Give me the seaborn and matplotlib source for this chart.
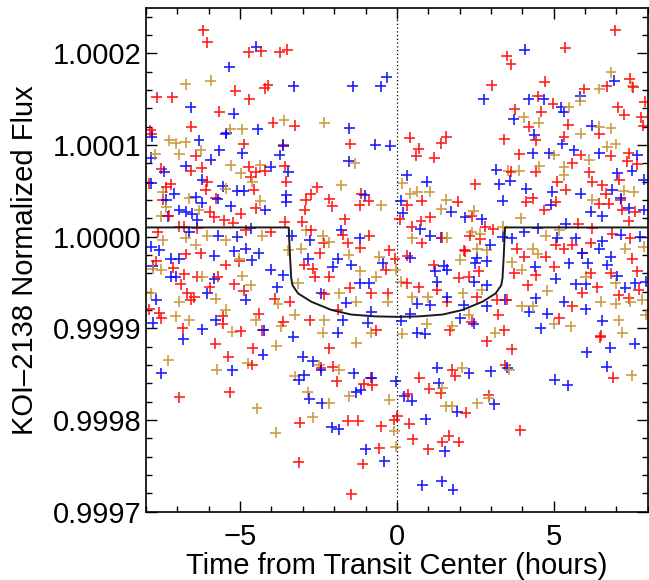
import numpy as np
import pandas as pd
import matplotlib
matplotlib.use("Agg")
import matplotlib.pyplot as plt
import seaborn as sns
from matplotlib.ticker import MultipleLocator

# points: (hours from transit center, flux offset in ppm)
red_pts = [
    (-6.18, 225), (-6.04, 212), (-4.73, 201), (-4.32, 202), (-3.74, 201), (-3.50, 204), (-7.66, 152), (-7.16, 152),
    (-5.15, 159), (-4.70, 150), (-4.22, 162), (-4.11, 165), (-5.67, 136), (-6.55, 120), (-3.95, 124), (-3.26, 121),
    (-7.87, 116),
    (6.96, 225), (5.37, 206), (3.51, 197), (3.64, 188), (3.02, 165), (4.71, 169), (7.43, 172), (5.98, 161),
    (6.69, 164), (7.54, 163), (7.91, 147), (4.50, 153), (4.98, 145), (3.76, 139), (4.61, 136), (7.04, 141),
    (7.25, 133), (7.80, 130), (5.47, 122), (7.86, 121), (4.20, 120),
    (-5.79, -117), (-4.59, -122), (-5.38, -131), (-4.61, -140), (-6.94, -175), (-5.33, -170), (-3.10, -203),
    (-1.57, -201), (-1.23, -201), (-3.13, -246), (-1.09, -248), (-1.46, -281), (-0.56, -231), (-0.49, -207),
    (-2.15, -122), (-1.92, -158), (-2.42, -143), (-2.05, -142), (-1.06, -161), (-0.78, -162), (-0.83, -154),
    (2.86, -114), (3.67, -123), (3.46, -140), (1.77, -145), (1.87, -152), (0.71, -154), (1.03, -166), (1.40, -171),
    (0.34, -172), (2.93, -173), (2.19, -192), (0.02, -196), (-0.09, -200), (0.39, -204), (3.94, -211), (1.66, -217),
    (1.45, -224), (1.98, -224), (1.00, -232), (0.50, -221), (6.90, -154), (6.48, -110),
    (-7.81, 112), (-4.88, 101), (-6.41, 88), (-6.22, 75), (-7.52, 74), (-6.57, 72), (-4.72, 76), (-4.50, 70),
    (-4.66, 65), (-4.21, 72), (-7.92, 58), (-7.36, 54), (-7.21, 57), (-6.09, 51), (-6.04, 60), (-5.78, 42),
    (-7.47, 40), (-4.56, 51), (-4.50, 31), (-5.97, 27), (-5.83, 21), (-4.98, 25), (-5.22, 15), (-5.51, 18),
    (-7.28, 23), (-6.94, 11), (-6.78, 11), (-7.63, 5), (-6.36, 9), (-4.82, 7), (-4.03, 5), (-6.25, -18),
    (-6.73, -19), (-7.68, -27), (-7.13, -34), (-5.46, -31), (-5.03, -27), (-6.78, -41), (-6.36, -44), (-6.89, -52),
    (-5.97, -55), (-5.19, -52), (-4.88, -59), (-6.68, -62), (-6.46, -66), (-6.57, -69), (-7.58, -83), (-7.52, -89),
    (-5.56, -87), (-5.56, -95), (-4.40, -84), (-6.83, -100), (-4.98, -103), (-4.29, -102), (-7.89, -79), (-5.72, -44),
    (-3.63, 100), (-1.48, 101), (-3.58, 77), (-3.52, 60), (-2.54, 54), (-2.75, 46), (-2.91, 40), (-2.94, 29),
    (-2.15, 41), (-2.06, 33), (-1.14, 47), (-1.19, 34), (-0.90, 39), (-1.67, 19), (-3.58, 16), (-3.01, 16),
    (-2.73, 7), (-2.33, -7), (-1.72, 2), (-1.56, -7), (-0.88, 1), (-1.16, -12), (-0.24, -15), (-2.46, -18),
    (-2.96, -31), (-2.68, -35), (-2.62, -44), (-2.15, -44), (-1.51, -56), (-0.82, -62), (-0.29, -62), (-3.42, -71),
    (-2.31, -63), (-1.88, -80), (-2.78, -91), (-3.63, -93), (-0.66, -102), (-3.89, -68), (-0.35, -36), (-0.06, -24),
    (0.41, 108), (0.70, 96), (0.62, 88), (1.20, 86), (1.42, 102), (1.57, 109), (3.42, 106), (3.91, 90),
    (2.50, 57), (3.64, 71), (0.80, 39), (1.94, 38), (0.33, 34), (0.09, 19), (0.77, 17), (0.47, 11),
    (1.07, 21), (2.39, 22), (3.08, 8), (2.82, 11), (2.32, 1), (2.66, -3), (1.44, -1), (0.80, -7),
    (3.82, -13), (2.18, -16), (1.18, -31), (0.33, -21), (2.61, -38), (1.97, -45), (2.29, -44), (1.28, -58),
    (0.70, -55), (0.31, -51), (3.74, -40), (3.19, -69), (3.51, -69), (2.55, -66), (1.60, -71), (3.24, -85),
    (2.39, -93), (1.68, -102), (3.42, -102), (2.15, -15),
    (4.43, 105), (5.33, 109), (6.45, 112), (5.60, 80), (5.86, 89), (6.82, 88), (7.40, 91), (7.66, 79),
    (7.35, 82), (6.13, 70), (5.12, 60), (6.23, 60), (6.55, 56), (6.66, 47), (7.10, 62), (7.14, 40),
    (5.39, 51), (4.43, 71), (4.12, 38), (4.33, 42), (5.07, 38), (4.70, 29), (6.45, 36), (6.76, 36),
    (7.19, 29), (7.61, 27), (5.79, 14), (6.23, 9), (7.40, 17), (7.45, -2), (6.87, 3), (5.07, -9),
    (5.60, -9), (5.33, -13), (6.18, -7), (4.75, -22), (4.06, -22), (5.92, -18), (7.51, -24), (4.43, -42),
    (5.02, -33), (6.18, -40), (6.82, -40), (7.66, -38), (6.39, -55), (4.17, -53), (5.92, -61), (7.08, -64),
    (7.40, -67), (7.72, -58), (5.60, -76), (5.18, -89), (6.50, -108),
]

blue_pts = [
    (-4.48, 207), (-5.35, 185), (-3.29, 164), (-1.41, 164), (-0.51, 164), (-0.32, 174), (-6.58, 141), (-5.20, 134),
    (-4.43, 117), (-1.52, 118), (-5.44, 113),
    (4.08, 204), (2.77, 150), (4.20, 150), (4.68, 150), (5.24, 141), (5.32, 136), (5.85, 153), (6.93, 170),
    (3.73, 128), (6.22, 121),
    (-4.27, -129), (-5.25, -146), (-7.52, -149), (-3.00, -131), (-2.68, -136), (-2.95, -151), (-3.13, -156),
    (-2.42, -146), (-1.38, -149), (-1.15, -167), (-1.30, -170), (-0.80, -154), (-2.79, -177), (-2.39, -182),
    (-2.07, -208), (-1.86, -210), (-0.99, -232), (-0.40, -245), (-0.03, -158), (-6.20, -101), (-6.81, -112),
    (2.99, -147), (3.52, -143), (2.30, -149), (1.29, -143), (0.23, -174), (0.48, -179), (1.34, -160), (1.93, -191),
    (3.11, -183), (0.92, -199), (1.53, -234), (0.81, -271), (1.43, -267), (1.79, -276), (5.03, -156), (5.45, -162),
    (6.69, -142), (7.59, -117), (6.06, -126), (6.80, -121),
    (-7.81, 109), (-5.46, 112), (-6.31, 105), (-5.67, 94), (-4.93, 91), (-7.84, 86), (-5.93, 84), (-6.73, 77),
    (-7.42, 71), (-4.03, 76), (-6.20, 62), (-4.88, 50), (-5.09, 50), (-5.56, 55), (-7.84, 58), (-7.10, 47),
    (-6.41, 43), (-7.36, 40), (-6.22, 37), (-5.30, 33), (-5.72, 41), (-6.94, 29), (-6.73, 27), (-6.52, 25),
    (-4.19, 29), (-7.31, 22), (-6.36, 18), (-4.66, 9), (-6.62, 5), (-5.69, 1), (-5.09, 0), (-4.82, -13),
    (-4.40, -18), (-7.84, -11), (-7.58, -15), (-6.94, -24), (-7.21, -24), (-5.83, -21), (-5.19, -16), (-7.79, -32),
    (-4.63, -26), (-7.21, -44), (-7.05, -44), (-5.83, -46), (-7.68, -69), (-6.04, -62), (-4.82, -69), (-5.78, -91),
    (-7.79, -94), (-4.24, -102), (-4.03, -36),
    (-3.63, 99), (-0.69, 100), (-0.21, 99), (-3.74, 89), (-1.54, 82), (-3.47, 71), (-3.52, 45), (-3.52, 38),
    (-1.03, 45), (-1.78, 7), (-1.19, -2), (-3.36, 1), (-2.78, -4), (-1.88, -24), (-2.83, -24), (-1.46, -31),
    (-2.04, -33), (-0.45, -29), (-3.63, -42), (-3.81, -55), (-1.19, -51), (-0.88, -51), (-2.41, -62), (-1.62, -72),
    (-0.82, -82), (-1.72, -91), (-0.93, -94), (-1.88, -105), (-3.31, -109),
    (0.31, 67), (0.96, 60), (3.17, 73), (3.61, 61), (3.27, 57), (1.73, 27), (2.18, 21), (2.71, 19),
    (3.38, 39), (0.12, 39), (0.19, 26), (0.75, 8), (1.07, 1), (1.42, -1), (3.38, 0), (3.66, -2),
    (2.98, -9), (0.43, -23), (1.49, -32), (1.60, -36), (2.50, -29), (2.87, -27), (2.55, -23), (1.23, -38),
    (1.28, -49), (2.47, -49), (2.87, -53), (0.65, -73), (1.07, -75), (1.60, -66), (2.13, -75), (2.87, -76),
    (0.43, -84), (2.02, -89), (2.45, -95), (3.45, -69), (0.65, -105), (0.91, -106), (0.14, -92),
    (4.38, 111), (5.28, 101), (4.33, 91), (4.86, 91), (5.65, 94), (6.45, 91), (7.66, 89), (7.50, 72),
    (7.03, 69), (7.88, 62), (4.12, 52), (4.96, 49), (5.86, 47), (6.87, 51), (7.14, 42), (7.40, 31),
    (6.18, 27), (6.55, 22), (5.39, 14), (4.91, 35), (7.88, 29), (4.49, 9), (4.06, 5), (5.12, -1),
    (5.70, -2), (6.55, -5), (7.14, 2), (7.77, 0), (5.92, -18), (6.45, -13), (6.82, -22), (5.49, -29),
    (6.08, -29), (6.71, -31), (4.41, -33), (5.07, -46), (7.03, -43), (5.70, -52), (6.02, -52), (7.29, -56),
    (7.61, -51), (4.43, -67), (5.33, -71), (4.22, -82), (4.80, -84), (6.02, -79), (6.55, -92), (4.59, -100),
    (7.93, -49),
]

gold_pts = [
    (-6.73, 166), (-5.93, 170), (-4.93, 117), (-5.31, 117), (-3.60, 127), (-2.31, 124),
    (6.83, 179), (6.45, 161), (7.51, 164), (5.85, 148), (5.48, 141), (4.05, 130), (4.52, 124), (6.83, 118),
    (6.46, 120),
    (-3.85, -119), (-4.75, -138), (-5.75, -145), (-7.29, -135), (-3.26, -152), (-2.84, -170), (-2.15, -182),
    (-2.68, -197), (-4.46, -187), (-3.87, -214), (-1.52, -174), (-0.24, -178), (-0.09, -212), (-0.03, -229),
    (-1.83, -145), (-2.47, -140), (-1.30, -116),
    (1.56, -185), (1.77, -185), (2.56, -182), (2.93, -176), (1.45, -165), (2.09, -143), (3.59, -145), (7.49, -151),
    (-7.26, 105), (-6.73, 103), (-7.05, 102), (-6.94, 90), (-7.70, 90), (-6.25, 94), (-5.30, 78), (-4.98, 69),
    (-4.35, 78), (-4.61, 60), (-7.47, 49), (-7.36, 32), (-5.46, 52), (-4.35, 39), (-6.31, 29), (-7.52, 22),
    (-6.62, 42), (-6.73, -1), (-6.04, 1), (-5.46, -4), (-4.29, 1), (-7.47, -4), (-6.41, -9), (-5.03, -24),
    (-7.79, -35), (-7.52, -36), (-4.93, -43), (-6.20, -44), (-4.66, -53), (-7.84, -62), (-6.94, -71), (-5.78, -68),
    (-5.46, -80), (-7.05, -87), (-6.62, -91), (-4.50, -91), (-5.25, -104),
    (-1.35, 80), (-1.78, 56), (-0.50, 34), (-2.89, 7), (-2.36, 1), (-2.15, -6), (-3.47, -15), (-3.05, -13),
    (-1.54, -20), (-0.56, -22), (-1.16, -38), (-0.66, -44), (-3.15, -51), (-1.83, -62), (-1.30, -71), (-3.79, -73),
    (-0.29, -71), (-3.26, -85), (-2.31, -91), (-3.68, -98), (-2.36, -105), (-0.82, -105), (-0.03, -36),
    (0.17, 58), (0.43, 47), (0.65, 49), (1.05, 49), (1.58, 40), (1.42, 30), (2.45, 28), (3.56, 72),
    (3.91, 72), (0.49, -2), (1.60, -1), (2.39, 5), (2.66, 3), (3.38, 11), (3.95, 20), (2.57, -13),
    (2.02, -25), (2.87, -15), (3.66, -28), (0.12, -49), (0.49, -66), (0.98, -66), (2.11, -62), (2.71, -58),
    (3.98, -36), (3.98, -76), (0.17, -106), (0.96, -95), (2.29, -85), (3.13, -105), (1.76, -98),
    (5.86, 112), (6.98, 101), (6.71, 98), (4.54, 77), (5.02, 89), (6.13, 84), (5.33, 76), (5.33, 67),
    (6.23, 40), (7.56, 49), (7.24, 50), (4.75, 1), (5.18, 7), (4.33, -13), (4.49, -19), (7.29, -13),
    (7.88, -11), (6.02, -44), (6.98, -51), (4.80, -59), (4.33, -76), (6.50, -71), (6.98, -73), (7.45, -71),
    (7.82, -69), (5.02, -95), (5.55, -98), (7.08, -91), (7.19, -105), (7.93, -85),
]

# transit model curve
model_time = [-8, -3.45, -3.41, -3.37, -3.33, -3.15, -2.73, -2.09, -1.46, -0.70, 0,
              0.70, 1.46, 2.09, 2.73, 3.15, 3.33, 3.37, 3.41, 3.45, 8]
model_ppm = [10, 10, -20, -45, -53, -62, -71, -80, -85, -87, -87.5,
             -87, -85, -80, -71, -62, -53, -45, -20, 10, 10]

y_ticks = [0.9997, 0.9998, 0.9999, 1.0000, 1.0001, 1.0002]
y_labels = ["0.9997", "0.9998", "0.9999", "1.0000", "1.0001", "1.0002"]
x_ticks = [-5, 0, 5]
x_labels = ["\u22125", "0", "5"]

colors = {"red": "#ff0000", "blue": "#0000ff", "gold": "#c48f2a"}

frames = []
for name, pts in [("red", red_pts), ("blue", blue_pts), ("gold", gold_pts)]:
    df = pd.DataFrame(pts, columns=["time", "ppm"])
    df["group"] = name
    frames.append(df)
data = pd.concat(frames).sort_values("time", kind="mergesort").reset_index(drop=True)
data["flux"] = 1 + data["ppm"] * 1e-6

model = pd.DataFrame({"time": model_time, "flux": 1 + np.array(model_ppm) * 1e-6})

sns.set_theme(style="ticks")
plt.rcParams["font.family"] = ["Liberation Sans", "DejaVu Sans"]

fig = plt.figure(figsize=(6.49, 5.8), dpi=100)
ax = fig.add_axes([0.225, 0.1178, 0.773, 0.8679])

sns.scatterplot(data=data, x="time", y="flux", hue="group", palette=colors,
                marker="+", s=62, linewidth=1.2, alpha=0.88, legend=False, ax=ax)
sns.lineplot(data=model, x="time", y="flux", color="#1a1a1a", linewidth=1.4,
             estimator=None, sort=False, ax=ax, zorder=3)
ax.axvline(0, color="black", linestyle=(0, (1, 2)), linewidth=0.9, zorder=1)

ax.set_xlim(-8, 8)
ax.set_ylim(0.9997, 1.000249)
ax.set_xticks(x_ticks)
ax.set_xticklabels(x_labels)
ax.set_yticks(y_ticks)
ax.set_yticklabels(y_labels)
ax.xaxis.set_minor_locator(MultipleLocator(1))
ax.yaxis.set_minor_locator(MultipleLocator(0.00002))

ax.tick_params(which="both", direction="in", top=True, right=True, colors="black", labelsize=21)
ax.tick_params(which="major", length=8, width=1)
ax.tick_params(which="minor", length=4, width=1)
ax.tick_params(axis="y", pad=3)
ax.tick_params(axis="x", pad=8)
for sp in ax.spines.values():
    sp.set_linewidth(1.2)
    sp.set_color("black")

ax.set_xlabel("Time from Transit Center (hours)", fontsize=21, labelpad=1, color="black")
ax.set_ylabel("KOI\u20132138 Normalized Flux", fontsize=21, labelpad=10, color="black")

fig.savefig("out.png", dpi=100, facecolor="white")
